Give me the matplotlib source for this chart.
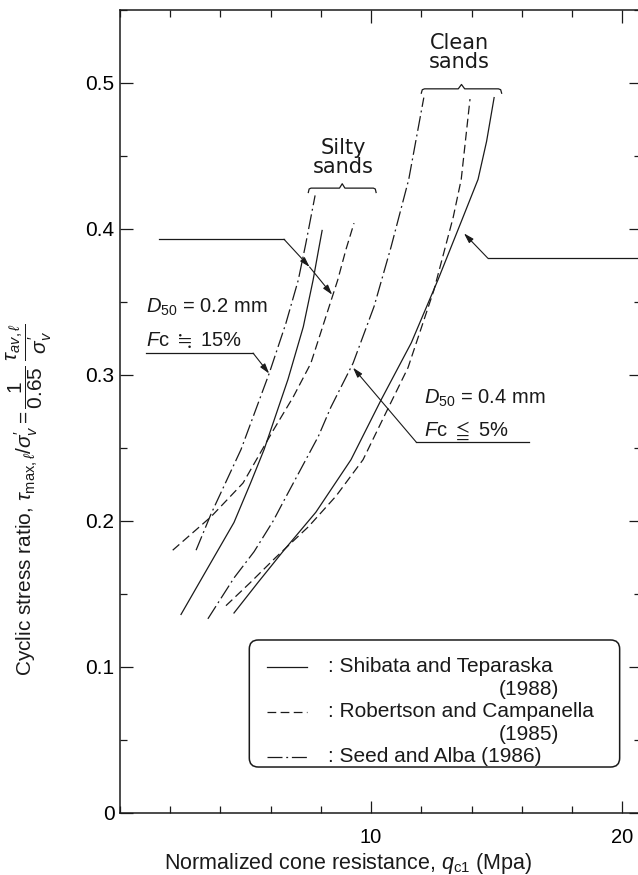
import matplotlib
matplotlib.use("Agg")
import matplotlib.pyplot as plt
from matplotlib.patches import FancyBboxPatch
from matplotlib.transforms import IdentityTransform
from matplotlib.ticker import MultipleLocator

plt.rcParams['font.family'] = ['Liberation Sans', 'DejaVu Sans', 'Noto Sans CJK JP']
plt.rcParams['mathtext.fontset'] = 'custom'
plt.rcParams['mathtext.rm'] = 'Liberation Sans'
plt.rcParams['mathtext.it'] = 'Liberation Sans:italic'
plt.rcParams['mathtext.fallback'] = 'stixsans'

# CSR vs normalized cone resistance curves (qc1 in MPa, CSR)
shibata_silty_x = [2.43, 3.4, 4.54, 5.2, 5.74, 6.69, 7.3, 7.69, 7.9, 8.05]
shibata_silty_y = [0.136, 0.165, 0.199, 0.226, 0.249, 0.297, 0.333, 0.365, 0.385, 0.399]

robertson_silty_x = [2.1, 3.63, 4.9, 6.1, 6.9, 7.6, 8.67, 9.0, 9.32]
robertson_silty_y = [0.18, 0.203, 0.226, 0.262, 0.285, 0.308, 0.365, 0.386, 0.404]

seed_silty_x = [3.03, 3.63, 4.82, 5.94, 6.6, 7.1, 7.4, 7.77]
seed_silty_y = [0.18, 0.205, 0.249, 0.301, 0.335, 0.365, 0.39, 0.423]

shibata_clean_x = [4.54, 5.5, 6.53, 7.8, 9.2, 10.4, 11.6, 12.66, 13.59, 14.26, 14.6, 14.9]
shibata_clean_y = [0.137, 0.158, 0.18, 0.206, 0.242, 0.283, 0.322, 0.365, 0.405, 0.434, 0.46, 0.49]

robertson_clean_x = [4.22, 5.2, 6.2, 7.5, 8.6, 9.68, 10.7, 11.47, 12.5, 13.27, 13.59, 13.94]
robertson_clean_y = [0.142, 0.158, 0.175, 0.196, 0.217, 0.242, 0.278, 0.305, 0.358, 0.408, 0.434, 0.489]

seed_clean_x = [3.5, 4.54, 5.34, 6.1, 6.53, 7.9, 8.4, 9.28, 10.12, 10.8, 11.5, 12.1]
seed_clean_y = [0.133, 0.161, 0.179, 0.2, 0.214, 0.258, 0.278, 0.308, 0.347, 0.388, 0.434, 0.49]

legend_labels = [": Shibata and Teparaska", ": Robertson and Campanella", ": Seed and Alba (1986)"]
legend_years = ["(1988)", "(1985)"]

SOLID = '-'
DASHED = (0, (7, 3.5))
DASHDOT = (0, (12, 3, 1.5, 3))
INK = '#1a1a1a'

fig = plt.figure(figsize=(6.38, 8.75), dpi=100)
ax = fig.add_axes([120 / 638, 62 / 875, 521 / 638, 803 / 875])
ax.set_xlim(0, 20.75)
ax.set_ylim(0, 0.55)

curves = [
    (shibata_silty_x, shibata_silty_y, SOLID),
    (robertson_silty_x, robertson_silty_y, DASHED),
    (seed_silty_x, seed_silty_y, DASHDOT),
    (shibata_clean_x, shibata_clean_y, SOLID),
    (robertson_clean_x, robertson_clean_y, DASHED),
    (seed_clean_x, seed_clean_y, DASHDOT),
]
for xs, ys, ls in curves:
    ax.plot(xs, ys, color=INK, lw=0.9, linestyle=ls)

# axes frame and ticks
for sp in ax.spines.values():
    sp.set_linewidth(1.1)
    sp.set_color(INK)
ax.xaxis.set_major_locator(MultipleLocator(10))
ax.xaxis.set_minor_locator(MultipleLocator(2))
ax.yaxis.set_major_locator(MultipleLocator(0.1))
ax.yaxis.set_minor_locator(MultipleLocator(0.05))
ax.tick_params(which='both', direction='in', top=True, right=True, color=INK, width=0.9)
ax.tick_params(which='major', length=9)
ax.tick_params(which='minor', length=5)
ax.tick_params(axis='x', which='major', labelsize=14.5, pad=11)
ax.tick_params(axis='y', which='major', labelsize=15, pad=4)
ax.set_xticks([10, 20])
ax.set_xticklabels(['10', '20'])
ax.set_yticks([0, 0.1, 0.2, 0.3, 0.4, 0.5])
ax.set_yticklabels(['0', '0.1', '0.2', '0.3', '0.4', '0.5'])

fig.text(348 / 638, 12 / 875, r"Normalized cone resistance, $q_{\rm c1}$ (Mpa)",
         ha='center', va='center', fontsize=15.5, color=INK)
fig.text(29 / 638, 1 - 500 / 875,
         r"Cyclic stress ratio, $\tau_{\max,\ell}/\sigma_v' = \dfrac{1}{0.65}\;\dfrac{\tau_{av,\ell}}{\sigma_v'}$",
         rotation=90, ha='center', va='center', fontsize=15, color=INK)


def brace(x0, x1, y, depth=0.003):
    # curly bracket opening downward
    xm = (x0 + x1) / 2
    w = (x1 - x0) * 0.04
    bx = [x0, x0 + w * 0.3, x0 + w, xm - w, xm, xm + w, x1 - w, x1 - w * 0.3, x1]
    by = [y - depth, y - depth * 0.2, y, y, y + depth, y, y, y - depth * 0.2, y - depth]
    ax.plot(bx, by, color=INK, lw=0.9)


brace(7.5, 10.2, 0.428)
brace(12.0, 15.2, 0.496)
ax.text(8.9, 0.449, "Silty\nsands", ha='center', va='center', fontsize=15,
        family='DejaVu Sans', color=INK, linespacing=0.95)
ax.text(13.5, 0.521, "Clean\nsands", ha='center', va='center', fontsize=15,
        family='DejaVu Sans', color=INK, linespacing=0.95)

arrow_kw = dict(arrowstyle='-|>,head_length=0.6,head_width=0.18', color=INK, lw=0.8,
                shrinkA=0, shrinkB=0)

# silty sands leader
ax.plot([1.55, 6.53], [0.393, 0.393], color=INK, lw=0.9)
ax.annotate("", xy=(7.55, 0.374), xytext=(6.53, 0.393), arrowprops=arrow_kw)
ax.annotate("", xy=(8.45, 0.355), xytext=(7.55, 0.374), arrowprops=arrow_kw)

# clean sands leader
ax.plot([14.65, 20.75], [0.380, 0.380], color=INK, lw=0.9)
ax.annotate("", xy=(13.7, 0.397), xytext=(14.65, 0.380), arrowprops=arrow_kw)

# D50 = 0.2 mm
ax.text(1.05, 0.346, r"$D_{50}$ = 0.2 mm", fontsize=14.5, va='center', color=INK)
ax.text(1.05, 0.324, r"$F$c $\fallingdotseq$ 15%", fontsize=14.5, va='center', color=INK)
ax.plot([1.05, 5.3], [0.315, 0.315], color=INK, lw=0.9)
ax.annotate("", xy=(5.94, 0.301), xytext=(5.3, 0.315), arrowprops=arrow_kw)

# D50 = 0.4 mm
ax.text(12.1, 0.284, r"$D_{50}$ = 0.4 mm", fontsize=14.5, va='center', color=INK)
ax.text(12.1, 0.262, r"$F$c $\leqq$ 5%", fontsize=14.5, va='center', color=INK)
ax.plot([11.8, 16.3], [0.254, 0.254], color=INK, lw=0.9)
ax.annotate("", xy=(9.28, 0.305), xytext=(11.8, 0.254), arrowprops=arrow_kw)

# legend box drawn in pixel space so the corners stay round
fig.canvas.draw()
(bx0, by0) = ax.transData.transform((5.15, 0.0315))
(bx1, by1) = ax.transData.transform((19.9, 0.1185))
box = FancyBboxPatch((bx0, by0), bx1 - bx0, by1 - by0,
                     boxstyle="round,pad=0,rounding_size=9",
                     transform=IdentityTransform(), fill=False, ec=INK, lw=1.1)
fig.patches.append(box)
box.set_figure(fig)

legend_rows = [0.100, 0.0695, 0.0385]
legend_styles = [SOLID, DASHED, DASHDOT]
for yy, lab, ls in zip(legend_rows, legend_labels, legend_styles):
    ax.plot([5.85, 7.45], [yy, yy], color=INK, lw=0.9, linestyle=ls)
    ax.text(8.3, yy, lab, fontsize=15, va='center', color=INK)
for yy, yr in zip([0.0845, 0.0535], legend_years):
    ax.text(17.5, yy, yr, fontsize=15, va='center', ha='right', color=INK)

fig.savefig("out.png", dpi=100)
